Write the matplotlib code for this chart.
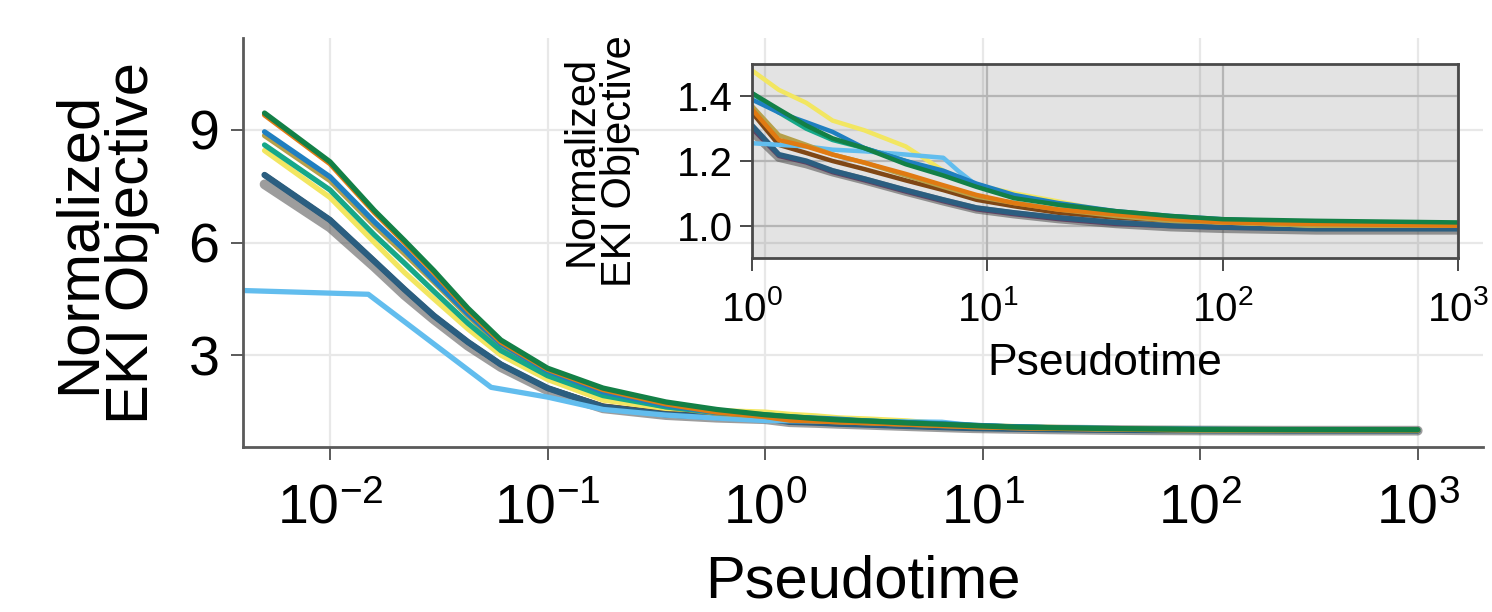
import numpy as np
import matplotlib
matplotlib.use('Agg')
import matplotlib.pyplot as plt
from matplotlib.ticker import LogLocator, NullLocator, FixedLocator, FormatStrFormatter

plt.rcParams['font.family'] = ['Liberation Sans', 'DejaVu Sans']
plt.rcParams['mathtext.fontset'] = 'custom'
plt.rcParams['mathtext.rm'] = 'Liberation Sans'
plt.rcParams['mathtext.it'] = 'Liberation Sans:italic'
plt.rcParams['mathtext.bf'] = 'Liberation Sans:bold'

# shared pseudotime grid for the ensemble runs
pseudotime = [0.005, 0.01, 0.016, 0.022, 0.03, 0.043, 0.061, 0.1, 0.18, 0.35, 0.6,
              1.0, 1.3, 1.7, 2.2, 3.0, 4.5, 6.5, 9.0, 13, 20, 35, 60, 100, 250, 1000]

obj_gray = [7.55, 6.4, 5.35, 4.6, 3.95, 3.25, 2.68, 2.06, 1.58, 1.4, 1.33,
            1.29, 1.21, 1.19, 1.165, 1.14, 1.105, 1.075, 1.05, 1.035, 1.02, 1.005, 0.995, 0.99, 0.985, 0.985]
obj_purple = [7.8, 6.6, 5.5, 4.75, 4.05, 3.35, 2.75, 2.12, 1.62, 1.42, 1.33,
              1.30, 1.215, 1.195, 1.165, 1.14, 1.105, 1.075, 1.05, 1.035, 1.02, 1.005, 0.998, 0.993, 0.99, 0.99]
obj_brown = [7.8, 6.6, 5.5, 4.75, 4.05, 3.35, 2.75, 2.12, 1.64, 1.45, 1.38,
             1.35, 1.25, 1.225, 1.2, 1.175, 1.14, 1.11, 1.08, 1.06, 1.04, 1.025, 1.015, 1.01, 1.005, 1.005]
obj_slate = [7.8, 6.6, 5.5, 4.75, 4.05, 3.35, 2.75, 2.12, 1.62, 1.42, 1.35,
             1.31, 1.22, 1.2, 1.17, 1.145, 1.11, 1.08, 1.055, 1.04, 1.025, 1.01, 1.0, 0.995, 0.99, 0.99]
obj_yellow = [8.45, 7.2, 6.0, 5.2, 4.5, 3.7, 3.0, 2.35, 1.8, 1.58, 1.52,
              1.48, 1.42, 1.38, 1.325, 1.295, 1.245, 1.17, 1.125, 1.10, 1.075, 1.04, 1.02, 1.01, 1.0, 1.0]
obj_khaki = [8.85, 7.65, 6.45, 5.7, 4.95, 4.05, 3.25, 2.55, 1.98, 1.62, 1.45,
             1.37, 1.28, 1.25, 1.22, 1.195, 1.155, 1.12, 1.09, 1.07, 1.05, 1.03, 1.015, 1.01, 1.0, 1.0]
obj_teal = [8.6, 7.4, 6.2, 5.45, 4.7, 3.85, 3.12, 2.45, 1.92, 1.62, 1.47,
            1.41, 1.35, 1.3, 1.265, 1.24, 1.20, 1.16, 1.125, 1.09, 1.065, 1.04, 1.025, 1.015, 1.01, 1.005]
obj_blue = [8.95, 7.75, 6.55, 5.8, 5.0, 4.1, 3.3, 2.58, 2.02, 1.66, 1.47,
            1.39, 1.35, 1.32, 1.29, 1.24, 1.20, 1.17, 1.13, 1.095, 1.07, 1.045, 1.03, 1.02, 1.01, 1.005]
obj_orange = [9.4, 8.1, 6.8, 6.0, 5.2, 4.2, 3.35, 2.62, 2.08, 1.7, 1.48,
              1.36, 1.265, 1.245, 1.22, 1.195, 1.16, 1.125, 1.095, 1.07, 1.05, 1.035, 1.02, 1.01, 1.005, 1.0]
obj_green = [9.45, 8.15, 6.85, 6.05, 5.25, 4.25, 3.4, 2.65, 2.12, 1.75, 1.55,
             1.41, 1.36, 1.31, 1.27, 1.24, 1.19, 1.155, 1.12, 1.085, 1.065, 1.045, 1.03, 1.02, 1.015, 1.01]

# the one run that starts from a much lower objective
pseudotime_low = [0.004, 0.015, 0.055, 0.1, 0.18, 0.35, 0.6, 1.0, 1.3, 1.7, 2.2, 3.0,
                  4.5, 6.5, 7.5, 9.0, 13, 20, 35, 60, 100, 250, 1000]
obj_lightblue = [4.72, 4.62, 2.14, 1.88, 1.55, 1.4, 1.32, 1.255, 1.25, 1.245, 1.235, 1.23,
                 1.22, 1.21, 1.17, 1.125, 1.09, 1.065, 1.04, 1.025, 1.015, 1.005, 1.0]

runs = [
    (pseudotime, obj_gray, '#4d4d4d', 0.55, 7),
    (pseudotime, obj_purple, '#5b3a5e', 0.9, 3.5),
    (pseudotime, obj_brown, '#7b3f0a', 0.95, 3.8),
    (pseudotime, obj_slate, '#2b5e80', 1.0, 4.5),
    (pseudotime, obj_yellow, '#f2e661', 1.0, 3.8),
    (pseudotime_low, obj_lightblue, '#62bdee', 1.0, 3.8),
    (pseudotime, obj_khaki, '#b6a04a', 1.0, 3.8),
    (pseudotime, obj_teal, '#16a889', 1.0, 3.8),
    (pseudotime, obj_blue, '#1f7fc0', 1.0, 3.8),
    (pseudotime, obj_orange, '#e07a12', 1.0, 3.8),
    (pseudotime, obj_green, '#138046', 1.0, 3.8),
]

fig = plt.figure(figsize=(14.92, 6.12), dpi=100)

# main axes
ax = fig.add_axes([243 / 1492, 1 - 447 / 612, (1483 - 243) / 1492, (447 - 38) / 612])
for x, y, c, a, lw in runs:
    ax.plot(x, y, color=c, alpha=a, lw=lw, solid_capstyle='round', solid_joinstyle='round')
ax.set_xscale('log')
ax.set_xlim(10 ** -2.40, 10 ** 3.30)
ax.set_ylim(0.55, 11.45)
ax.xaxis.set_major_locator(LogLocator(base=10, numticks=10))
ax.xaxis.set_minor_locator(NullLocator())
ax.yaxis.set_major_locator(FixedLocator([3, 6, 9]))
ax.grid(True, color='#e8e8e8', lw=1.6, zorder=0)
ax.set_axisbelow(True)
for s in ['top', 'right']:
    ax.spines[s].set_visible(False)
for s in ['left', 'bottom']:
    ax.spines[s].set_color('#5a5a5a')
    ax.spines[s].set_linewidth(2)
ax.tick_params(direction='out', length=9, width=1.4, color='#5a5a5a', labelsize=40, pad=8)
ax.tick_params(axis='x', pad=17)
ax.set_xlabel('Pseudotime', fontsize=43, labelpad=14)
ax.set_ylabel('Normalized\nEKI Objective', fontsize=43, linespacing=0.95)
ax.yaxis.set_label_coords(-0.067, 0.5)

# inset zoomed on late pseudotime
axin = fig.add_axes([752 / 1492, 1 - 258 / 612, (1458 - 752) / 1492, (258 - 64) / 612])
axin.set_facecolor((0, 0, 0, 0.11))
for x, y, c, a, lw in runs:
    axin.plot(x, y, color=c, alpha=a, lw=lw * 0.85, solid_capstyle='butt', solid_joinstyle='round')
axin.set_xscale('log')
axin.set_xlim(1, 1000)
axin.set_ylim(0.9, 1.5)
axin.xaxis.set_major_locator(LogLocator(base=10, numticks=10))
axin.xaxis.set_minor_locator(NullLocator())
axin.yaxis.set_major_locator(FixedLocator([1.0, 1.2, 1.4]))
axin.yaxis.set_major_formatter(FormatStrFormatter('%.1f'))
axin.grid(True, color='#b5b5b5', lw=1.6)
axin.set_axisbelow(True)
for s in axin.spines.values():
    s.set_color('#4a4a4a')
    s.set_linewidth(2)
axin.tick_params(direction='out', length=9, width=1.4, color='#4a4a4a', labelsize=29, pad=5)
axin.tick_params(axis='x', pad=14)
axin.set_xlabel('Pseudotime', fontsize=32, labelpad=10)
axin.set_ylabel('Normalized\nEKI Objective', fontsize=30, linespacing=0.95)
axin.yaxis.set_label_coords(-0.159, 0.5)

fig.savefig('out.png', dpi=100)
